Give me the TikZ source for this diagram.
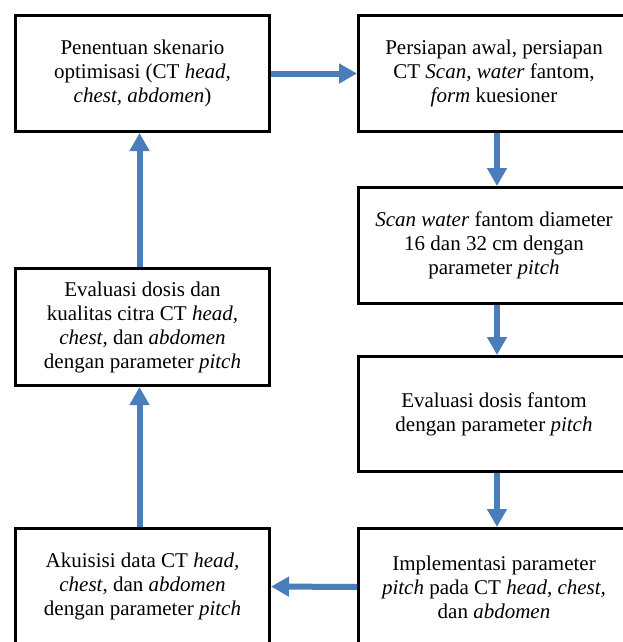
\documentclass[tikz,border=0pt]{standalone}
\usepackage{fontspec}
\setmainfont{Liberation Serif}
\usetikzlibrary{arrows.meta}
\definecolor{arrowblue}{RGB}{74,126,187}
\begin{document}
\begin{tikzpicture}[x=1pt,y=-1pt,
  box/.style={draw=black,line width=3pt,fill=white,inner sep=0pt,align=center,
    font=\fontsize{21pt}{24pt}\selectfont},
  conn/.style={draw=arrowblue,line width=6pt,
    -{Triangle[length=18pt,width=19pt]}}]
\useasboundingbox (0,0) rectangle (623,642);
\clip (0,0) rectangle (623,642);
\fill[white] (0,0) rectangle (623,642);
\node[box,minimum width=254pt,minimum height=116pt] (b1) at (142.5,73.5)
  {Penentuan skenario\\optimisasi (CT \textit{head,}\\\textit{chest, abdomen})};
\node[box,minimum width=271pt,minimum height=116pt] (b2) at (494,73.5)
  {Persiapan awal, persiapan\\CT \textit{Scan, water} fantom,\\\textit{form} kuesioner};
\node[box,minimum width=271pt,minimum height=116pt] (b3) at (494,245.5)
  {\textit{Scan water} fantom diameter\\16 dan 32 cm dengan\\parameter \textit{pitch}};
\node[box,minimum width=271pt,minimum height=115pt] (b4) at (494,414)
  {Evaluasi dosis fantom\\dengan parameter \textit{pitch}};
\node[box,minimum width=271pt,minimum height=117pt] (b5) at (494,587)
  {Implementasi parameter\\\textit{pitch} pada CT \textit{head, chest,}\\dan \textit{abdomen}};
\node[box,minimum width=254pt,minimum height=116pt] (b6) at (142.5,586.5)
  {Akuisisi data CT \textit{head,}\\\textit{chest}, dan \textit{abdomen}\\dengan parameter \textit{pitch}};
\node[box,minimum width=254pt,minimum height=117pt] (b7) at (142.5,327)
  {Evaluasi dosis dan\\kualitas citra CT \textit{head,}\\\textit{chest}, dan \textit{abdomen}\\dengan parameter \textit{pitch}};
\draw[conn] (b1.east) -- (b2.west);
\draw[conn] ([xshift=3pt]b2.south) -- ([xshift=3pt]b3.north);
\draw[conn] ([xshift=3pt]b3.south) -- ([xshift=3pt]b4.north);
\draw[conn] ([xshift=3pt]b4.south) -- ([xshift=3pt]b5.north);
\draw[conn] (b5.west) -- (b6.east);
\draw[conn] ([xshift=-3pt]b6.north) -- ([xshift=-3pt]b7.south);
\draw[conn] ([xshift=-3pt]b7.north) -- ([xshift=-3pt]b1.south);
\end{tikzpicture}
\end{document}
